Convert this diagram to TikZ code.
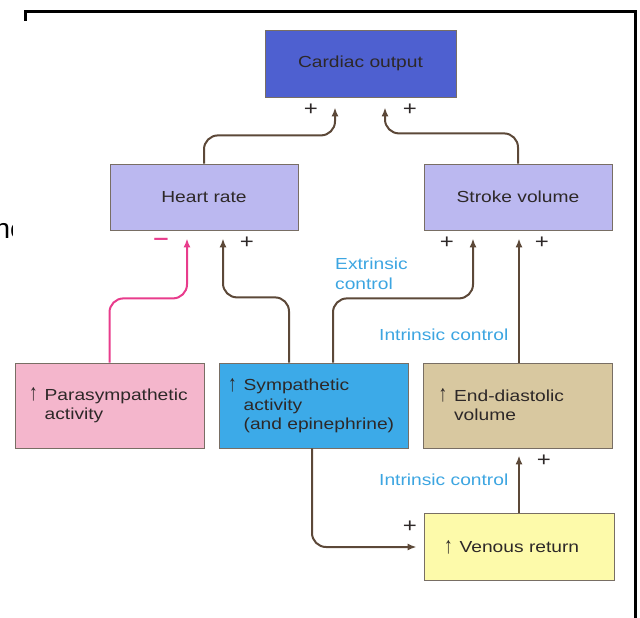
\documentclass[tikz,border=0pt]{standalone}
\usepackage{fontspec}
\setmainfont{Liberation Sans}[FakeStretch=1.2]
\newfontfamily\edgefont{Liberation Sans}
\usetikzlibrary{arrows.meta,calc}
\definecolor{coFill}{RGB}{78,96,208}
\definecolor{hrFill}{RGB}{187,184,240}
\definecolor{paraFill}{RGB}{244,182,204}
\definecolor{sympFill}{RGB}{60,170,232}
\definecolor{edvFill}{RGB}{216,200,160}
\definecolor{vrFill}{RGB}{253,250,170}
\definecolor{boxLine}{RGB}{120,110,100}
\definecolor{txt}{RGB}{45,40,40}
\definecolor{brownArr}{RGB}{92,72,56}
\definecolor{pinkArr}{RGB}{232,60,140}
\definecolor{blueLab}{RGB}{60,165,225}
\newcommand{\upmark}{\raisebox{-0.5pt}{\scalebox{0.9}[1.45]{↑}}\hspace{7pt}}
\newcommand{\upgap}{\phantom{\upmark}}
\tikzset{
  box/.style={draw=boxLine, line width=0.8pt, inner sep=0pt, text=txt},
  lbox/.style={box, align=left, minimum height=85pt},
  arr/.style={draw=brownArr, line width=2pt, rounded corners=14pt, -{Latex[length=9pt,width=7pt]}},
  pinkarr/.style={arr, draw=pinkArr},
  sign/.style={text=txt, inner sep=0pt, font=\fontsize{20}{20}\selectfont},
  ctrl/.style={text=blueLab, inner sep=0pt, align=left, anchor=west},
}
\begin{document}
\begin{tikzpicture}[x=1pt,y=-1pt,font=\fontsize{16}{19.5}\selectfont]
\useasboundingbox (0,0) rectangle (640,618);
% frame and clipped text
\draw[line width=3pt] (25,21) -- (25,12) -- (635,12) -- (635,620);
\begin{scope}
\clip (0,0) rectangle (12,618);
\node[anchor=base west, inner sep=0pt, font=\edgefont\fontsize{28}{30}\selectfont] (cut) at (-5.6,238) {ne};
\end{scope}
% boxes
\node[box, fill=coFill, minimum width=191pt, minimum height=67pt] (CO) at (360.5,63.5) {Cardiac output};
\node[box, fill=hrFill, minimum width=188pt, minimum height=66pt] (HR) at (204,197) {Heart rate};
\node[box, fill=hrFill, minimum width=188pt, minimum height=66pt] (SV) at (518,197) {Stroke volume};
\node[lbox, fill=paraFill, inner xsep=14pt, text width=161pt] (Para) at (109.5,405.5) {\upmark Parasympathetic\\\upgap activity};
\node[lbox, fill=sympFill, inner xsep=9pt, text width=171pt] (Symp) at (313.5,405.5) {\upmark Sympathetic\\\upgap activity\\\upgap (and epinephrine)};
\node[lbox, fill=edvFill, inner xsep=15pt, text width=159pt] (EDV) at (518,405.5) {\upmark End-diastolic\\\upgap volume};
\node[box, fill=vrFill, align=left, minimum height=67pt, inner xsep=20pt, text width=150pt] (VR) at (519,547) {\upmark Venous return};
% helper coordinates
\coordinate (coL) at ($(CO.south)+(-25.5,10)$);
\coordinate (coR) at ($(CO.south)+(24.5,10)$);
\coordinate (hrL) at ($(HR.south)+(-17,8)$);
\coordinate (hrR) at ($(HR.south)+(19,8)$);
\coordinate (svL) at ($(SV.south)+(-45,8)$);
\coordinate (svR) at ($(SV.south)+(1,8)$);
\coordinate (s1) at ($(Symp.north)+(-24.5,0)$);
\coordinate (s2) at ($(Symp.north)+(19.5,0)$);
\coordinate (s3) at ($(Symp.south)+(-1.5,0)$);
\coordinate (vrIn) at ($(VR.west)+(-7,0)$);
\coordinate (edvIn) at ($(VR.north |- EDV.south)+(0,7)$);
% connectors
\draw[arr] (HR.north) |- ($(coL)+(0,28)$) -- (coL);
\draw[arr] (SV.north) |- ($(coR)+(0,26)$) -- (coR);
\draw[pinkarr] (Para.north) |- ($(hrL)+(0,60)$) -- (hrL);
\draw[arr] (s1) |- ($(hrR)+(0,59)$) -- (hrR);
\draw[arr] (s2) |- ($(svL)+(0,60)$) -- (svL);
\draw[arr] (EDV.north -| svR) -- (svR);
\draw[arr] (s3) |- (vrIn);
\draw[arr] (VR.north) -- (edvIn);
% signs
\node[sign] (p1) at (311,110) {+};
\node[sign] (p2) at (410,110) {+};
\node[sign, text=pinkArr] (m1) at (161,243) {\scalebox{1}[1.6]{–}};
\node[sign] (p3) at (247,243) {+};
\node[sign] (p4) at (447,243) {+};
\node[sign] (p5) at (542,243) {+};
\node[sign] (p6) at (544,461) {+};
\node[sign] (p7) at (410,527) {+};
% control labels
\node[ctrl] (ext) at (335,274) {Extrinsic\\control};
\node[ctrl] (int1) at (379,335) {Intrinsic control};
\node[ctrl] (int2) at (379,480) {Intrinsic control};
\end{tikzpicture}
\end{document}
